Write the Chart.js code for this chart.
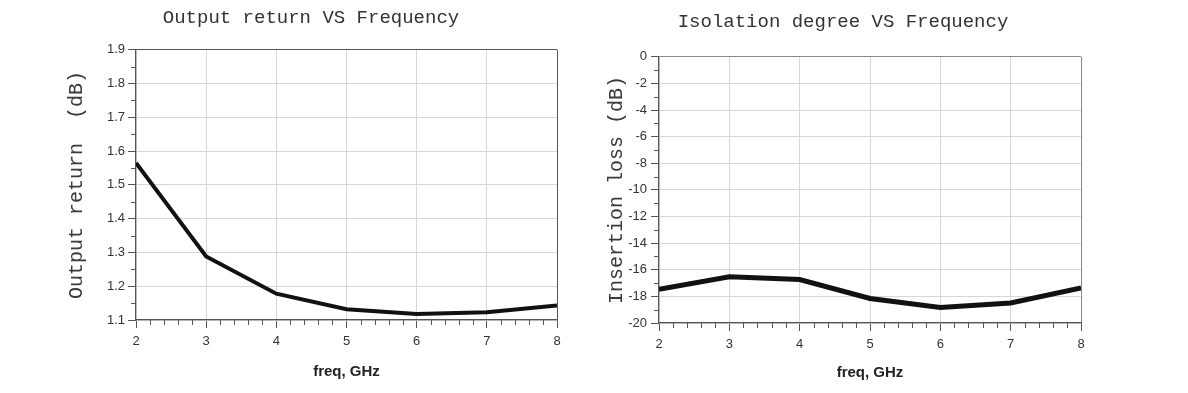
<!DOCTYPE html>
<html>
<head>
<meta charset="utf-8">
<script src="https://cdn.jsdelivr.net/npm/chart.js@4.4.0/dist/chart.umd.min.js"></script>
<style>
  body { margin: 0; background: #fff; width: 1188px; height: 393px; overflow: hidden; }
  canvas { position: absolute; top: 0; }
  #returnChart { left: 0; }
  #isolationChart { left: 594px; }
</style>
</head>
<body>
<canvas id="returnChart" width="594" height="393"></canvas>
<canvas id="isolationChart" width="594" height="393"></canvas>
<script>
const freqs = [2, 3, 4, 5, 6, 7, 8];
const outputReturn = [1.565, 1.288, 1.178, 1.132, 1.118, 1.123, 1.143];
const isolation = [-17.46, -16.53, -16.73, -18.16, -18.84, -18.49, -17.36];

const freqTicks = [2, 3, 4, 5, 6, 7, 8];
const returnTicks = [1.1, 1.2, 1.3, 1.4, 1.5, 1.6, 1.7, 1.8, 1.9];
const isolationTicks = [-20, -18, -16, -14, -12, -10, -8, -6, -4, -2, 0];

// major ticks plus evenly spaced minor ones between them
function withMinor(major, parts) {
    const out = [];
    for (let i = 0; i < major.length - 1; i++) {
        for (let k = 0; k < parts; k++) {
            const v = major[i] + (major[i + 1] - major[i]) * k / parts;
            out.push({ value: v, isMajor: k === 0 });
        }
    }
    out.push({ value: major[major.length - 1], isMajor: true });
    return out;
}

// short minor tick marks, placed by the scale itself
const minorTicks = {
    id: 'minorTicks',
    afterDraw(chart) {
        const ctx = chart.ctx;
        ctx.save();
        ctx.strokeStyle = '#555';
        ctx.lineWidth = 1;
        ['x', 'y'].forEach(id => {
            const s = chart.scales[id];
            s.ticks.forEach(t => {
                if (t.isMajor) return;
                const p = Math.round(s.getPixelForValue(t.value)) + 0.5;
                ctx.beginPath();
                if (id === 'x') {
                    ctx.moveTo(p, s.top);
                    ctx.lineTo(p, s.top + 5);
                } else {
                    ctx.moveTo(s.right, p);
                    ctx.lineTo(s.right - 5, p);
                }
                ctx.stroke();
            });
        });
        ctx.restore();
    }
};

function axis(major, parts, edgeColor, extra) {
    const maxVal = Math.max(...major);
    return Object.assign({
        type: 'linear',
        min: Math.min(...major),
        max: maxVal,
        afterBuildTicks: scale => { scale.ticks = withMinor(major, parts); },
        grid: {
            tickLength: 8,
            lineWidth: 1,
            color: ctx => {
                if (!ctx.tick || !ctx.tick.isMajor) return 'rgba(0,0,0,0)';
                if (Math.abs(ctx.tick.value - maxVal) < 1e-9) return edgeColor;
                return '#d6d6d6';
            },
            tickColor: ctx => (ctx.tick && ctx.tick.isMajor) ? '#555' : 'rgba(0,0,0,0)'
        },
        border: { color: '#555', width: 1.2 }
    }, extra);
}

function tickOpts(pad) {
    return {
        autoSkip: false,
        maxRotation: 0,
        padding: pad,
        color: '#333',
        font: { family: 'Liberation Sans', size: 13 },
        callback: (v, i, ticks) => {
            if (!ticks[i].isMajor) return '';
            return Number.isInteger(v) ? String(v) : v.toFixed(1);
        }
    };
}

function makeChart(id, cfg) {
    return new Chart(document.getElementById(id), {
        type: 'line',
        data: {
            datasets: [{
                data: freqs.map((f, i) => ({ x: f, y: cfg.values[i] })),
                borderColor: '#111',
                borderWidth: cfg.lineWidth,
                pointRadius: 0,
                tension: 0,
                fill: false
            }]
        },
        options: {
            responsive: false,
            animation: false,
            layout: { padding: { left: cfg.padLeft, right: cfg.padRight, top: 0, bottom: 0 } },
            plugins: {
                legend: { display: false },
                tooltip: { enabled: false },
                title: {
                    display: true,
                    text: cfg.title,
                    color: '#333',
                    font: { family: 'Liberation Mono', size: 19, weight: 'normal', lineHeight: 1.2 },
                    padding: { top: cfg.titleTop, bottom: cfg.titleBottom }
                }
            },
            scales: {
                x: axis(freqTicks, 5, cfg.edgeColor, {
                    position: 'bottom',
                    afterFit: s => { s.height = cfg.xHeight; },
                    ticks: tickOpts(6),
                    title: {
                        display: true,
                        text: 'freq, GHz',
                        color: '#222',
                        font: { family: 'Liberation Sans', size: 15, weight: 'bold', lineHeight: 1.2 },
                        padding: { top: 0, bottom: cfg.xTitleBottom }
                    }
                }),
                y: axis(cfg.yTicks, 2, cfg.edgeColor, {
                    position: 'left',
                    afterFit: s => { s.width = cfg.yWidth; },
                    ticks: tickOpts(cfg.yPad),
                    title: {
                        display: true,
                        text: cfg.yTitle,
                        color: '#3a3a3a',
                        font: { family: 'Liberation Mono', size: 20, weight: 'normal', lineHeight: 1.2 },
                        padding: { top: 0, bottom: 0 }
                    }
                })
            }
        },
        plugins: [minorTicks]
    });
}

makeChart('returnChart', {
    title: 'Output return VS Frequency',
    yTitle: 'Output return  (dB)',
    values: outputReturn,
    yTicks: returnTicks,
    lineWidth: 4,
    edgeColor: '#555',
    padLeft: 65, padRight: 37, yWidth: 71, yPad: 3,
    titleTop: 7, titleBottom: 20,
    xHeight: 73, xTitleBottom: 12
});

makeChart('isolationChart', {
    title: 'Isolation degree VS Frequency',
    yTitle: 'Insertion loss (dB)',
    values: isolation,
    yTicks: isolationTicks,
    lineWidth: 5,
    edgeColor: '#888',
    padLeft: 11, padRight: 107, yWidth: 54, yPad: 4,
    titleTop: 11, titleBottom: 23,
    xHeight: 70, xTitleBottom: 11
});
</script>
</body>
</html>
